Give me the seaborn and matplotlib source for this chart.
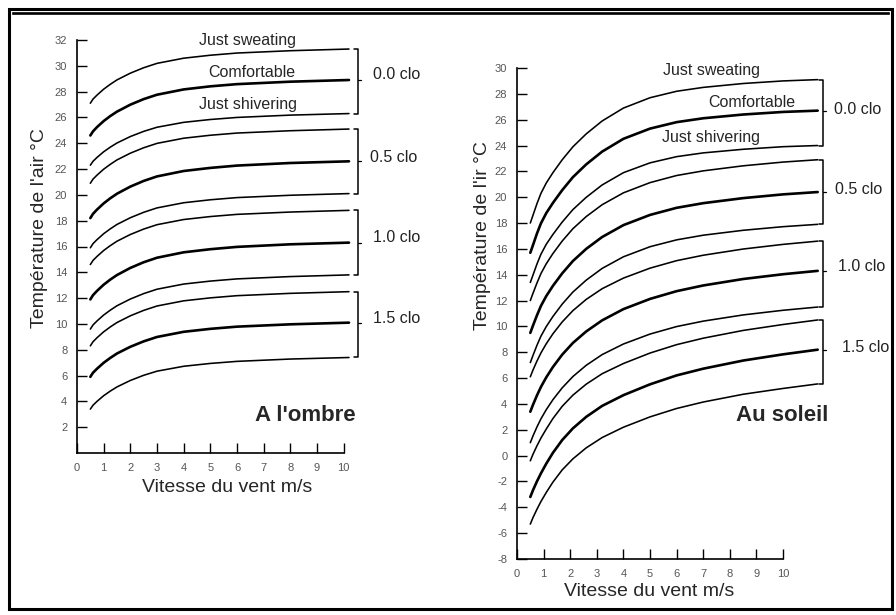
import matplotlib
matplotlib.use("Agg")
import matplotlib.pyplot as plt
import seaborn as sns
import pandas as pd
from matplotlib.patches import Rectangle

# ---------------- data ----------------
X_LEFT = [0.5, 0.6, 0.75, 1, 1.25, 1.5, 2, 2.5, 3, 4, 5, 6, 8, 10.2]
L00_SWEAT   = [27.10, 27.42, 27.73, 28.19, 28.57, 28.91, 29.43, 29.85, 30.19, 30.59, 30.82, 30.99, 31.17, 31.30]
L00_COMFORT = [24.60, 24.92, 25.25, 25.72, 26.11, 26.45, 26.99, 27.42, 27.76, 28.17, 28.41, 28.58, 28.77, 28.90]
L00_SHIVER  = [22.30, 22.60, 22.90, 23.34, 23.70, 24.02, 24.52, 24.92, 25.24, 25.62, 25.84, 26.00, 26.18, 26.30]
L05_SWEAT   = [20.90, 21.22, 21.53, 21.99, 22.37, 22.71, 23.23, 23.65, 23.99, 24.39, 24.62, 24.79, 24.97, 25.10]
L05_COMFORT = [18.20, 18.53, 18.86, 19.34, 19.74, 20.09, 20.64, 21.08, 21.43, 21.85, 22.09, 22.27, 22.47, 22.60]
L05_SHIVER  = [15.90, 16.22, 16.53, 16.99, 17.37, 17.71, 18.23, 18.65, 18.99, 19.39, 19.62, 19.79, 19.97, 20.10]
L10_SWEAT   = [14.60, 14.92, 15.23, 15.69, 16.07, 16.41, 16.93, 17.35, 17.69, 18.09, 18.32, 18.49, 18.67, 18.80]
L10_COMFORT = [11.90, 12.23, 12.56, 13.04, 13.44, 13.79, 14.34, 14.78, 15.13, 15.55, 15.79, 15.97, 16.17, 16.30]
L10_SHIVER  = [9.60, 9.92, 10.23, 10.69, 11.07, 11.41, 11.93, 12.35, 12.69, 13.09, 13.32, 13.49, 13.67, 13.80]
L15_SWEAT   = [8.30, 8.62, 8.93, 9.39, 9.77, 10.11, 10.63, 11.05, 11.39, 11.79, 12.02, 12.19, 12.37, 12.50]
L15_COMFORT = [5.90, 6.22, 6.53, 6.99, 7.37, 7.71, 8.23, 8.65, 8.99, 9.39, 9.62, 9.79, 9.97, 10.10]
L15_SHIVER  = [3.40, 3.70, 4.00, 4.44, 4.80, 5.12, 5.62, 6.02, 6.34, 6.72, 6.94, 7.10, 7.28, 7.40]

X_RIGHT = [0.5, 0.6, 0.75, 0.9, 1.1, 1.35, 1.7, 2.1, 2.6, 3.2, 4, 5, 6, 7, 8.5, 10, 11.3]
R00_SWEAT   = [18.00, 18.60, 19.50, 20.30, 21.10, 21.90, 22.90, 23.90, 24.90, 25.90, 26.90, 27.70, 28.20, 28.50, 28.80, 29.00, 29.10]
R00_COMFORT = [15.70, 16.29, 17.19, 17.98, 18.77, 19.56, 20.55, 21.55, 22.54, 23.53, 24.52, 25.31, 25.81, 26.11, 26.40, 26.60, 26.70]
R00_SHIVER  = [13.40, 13.97, 14.83, 15.59, 16.36, 17.12, 18.08, 19.04, 19.99, 20.95, 21.90, 22.66, 23.14, 23.43, 23.71, 23.91, 24.00]
R05_SWEAT   = [12.00, 12.56, 13.36, 14.09, 14.85, 15.64, 16.61, 17.56, 18.50, 19.42, 20.34, 21.13, 21.68, 22.04, 22.43, 22.72, 22.90]
R05_COMFORT = [9.50, 10.06, 10.86, 11.59, 12.35, 13.14, 14.11, 15.06, 16.00, 16.92, 17.84, 18.63, 19.18, 19.54, 19.93, 20.22, 20.40]
R05_SHIVER  = [7.20, 7.75, 8.54, 9.25, 9.99, 10.77, 11.73, 12.66, 13.58, 14.49, 15.39, 16.17, 16.70, 17.06, 17.44, 17.72, 17.90]
R10_SWEAT   = [6.10, 6.62, 7.32, 7.95, 8.66, 9.43, 10.35, 11.22, 12.09, 12.92, 13.74, 14.51, 15.09, 15.51, 15.99, 16.35, 16.60]
R10_COMFORT = [3.40, 3.93, 4.66, 5.32, 6.06, 6.86, 7.82, 8.72, 9.61, 10.47, 11.34, 12.13, 12.73, 13.17, 13.67, 14.04, 14.30]
R10_SHIVER  = [1.00, 1.52, 2.22, 2.85, 3.56, 4.33, 5.25, 6.12, 6.99, 7.82, 8.64, 9.41, 9.99, 10.41, 10.89, 11.25, 11.50]
R15_SWEAT   = [-0.40, 0.10, 0.76, 1.36, 2.06, 2.87, 3.82, 4.68, 5.53, 6.34, 7.13, 7.94, 8.59, 9.09, 9.69, 10.15, 10.50]
R15_COMFORT = [-3.20, -2.68, -1.99, -1.37, -0.62, 0.22, 1.21, 2.11, 3.00, 3.85, 4.68, 5.52, 6.21, 6.73, 7.36, 7.84, 8.20]
R15_SHIVER  = [-5.30, -4.80, -4.15, -3.55, -2.85, -2.05, -1.10, -0.25, 0.60, 1.40, 2.20, 3.00, 3.65, 4.15, 4.75, 5.20, 5.55]

CLO_LABELS = ["0.0 clo", "0.5 clo", "1.0 clo", "1.5 clo"]
LEFT_GROUPS = [(L00_SWEAT, L00_COMFORT, L00_SHIVER), (L05_SWEAT, L05_COMFORT, L05_SHIVER),
               (L10_SWEAT, L10_COMFORT, L10_SHIVER), (L15_SWEAT, L15_COMFORT, L15_SHIVER)]
RIGHT_GROUPS = [(R00_SWEAT, R00_COMFORT, R00_SHIVER), (R05_SWEAT, R05_COMFORT, R05_SHIVER),
                (R10_SWEAT, R10_COMFORT, R10_SHIVER), (R15_SWEAT, R15_COMFORT, R15_SHIVER)]

# ---------------- style ----------------
sns.set_style("white")
plt.rcParams["font.family"] = ["Liberation Sans", "DejaVu Sans"]
plt.rcParams["axes.unicode_minus"] = False

W, H = 896, 615
fig = plt.figure(figsize=(W / 100, H / 100), dpi=100)
fig.patch.set_facecolor("white")

axL = fig.add_axes([77 / W, (H - 453) / H, 280 / W, 413 / H])
axR = fig.add_axes([517 / W, (H - 559) / H, 314 / W, 491 / H])


def draw_panel(ax, xs, groups, xlim, ylim, yticks, brack_x, clo_x, clo_y):
    for g in groups:
        for k, ys in enumerate(g):
            df = pd.DataFrame({"v": xs, "t": ys})
            sns.lineplot(data=df, x="v", y="t", ax=ax, color="black",
                         linewidth=1.9 if k == 1 else 1.15, sort=True)
    ax.set_xlim(*xlim)
    ax.set_ylim(*ylim)
    ax.set_xlabel("")
    ax.set_ylabel("")
    ax.set_xticks(range(0, 11))
    ax.set_yticks(yticks)
    ax.tick_params(direction="in", length=7, width=1, labelsize=8,
                   labelcolor="#555555", pad=7, color="black",
                   bottom=True, left=True)
    for s in ["top", "right"]:
        ax.spines[s].set_visible(False)
    for s in ["left", "bottom"]:
        ax.spines[s].set_color("black")
        ax.spines[s].set_linewidth(1.2)
    ax.spines["bottom"].set_bounds(0, 10)
    # braces grouping the three curves of each clothing level
    for i, g in enumerate(groups):
        top, mid, bot = g[0][-1], g[1][-1], g[2][-1]
        ax.plot([brack_x - 0.15, brack_x, brack_x, brack_x - 0.15],
                [top, top, bot, bot], color="black", lw=1.1, clip_on=False)
        ax.plot([brack_x, brack_x + 0.12], [mid, mid], color="black",
                lw=0.9, clip_on=False)
        ax.text(clo_x[i], clo_y[i], CLO_LABELS[i], ha="left", va="center",
                fontsize=11.5, color="#222222")


draw_panel(axL, X_LEFT, LEFT_GROUPS, (0, 10.5), (0, 32), range(2, 33, 2),
           10.52, [11.1, 11.0, 11.1, 11.1], [29.3, 22.9, 16.7, 10.4])
draw_panel(axR, X_RIGHT, RIGHT_GROUPS, (0, 11.8), (-8, 30), range(-8, 31, 2),
           11.5, [11.9, 11.95, 12.07, 12.2], [26.8, 20.6, 14.6, 8.4])

# curve names
axL.text(6.4, 32.0, "Just sweating", ha="center", va="center", fontsize=11.5)
axL.text(6.55, 29.5, "Comfortable", ha="center", va="center", fontsize=11.5)
axL.text(6.4, 27.0, "Just shivering", ha="center", va="center", fontsize=11.5)
axR.text(7.3, 29.8, "Just sweating", ha="center", va="center", fontsize=11.5)
axR.text(8.83, 27.3, "Comfortable", ha="center", va="center", fontsize=11.5)
axR.text(7.3, 24.6, "Just shivering", ha="center", va="center", fontsize=11.5)

axL.text(10.45, 2.9, "A l'ombre", ha="right", va="center", fontsize=16, fontweight="bold")
axR.text(11.7, 3.1, "Au soleil", ha="right", va="center", fontsize=16, fontweight="bold")

# axis titles
fig.text(227 / W, 1 - 488 / H, "Vitesse du vent m/s", ha="center", va="center", fontsize=14)
fig.text(649 / W, 1 - 592 / H, "Vitesse du vent m/s", ha="center", va="center", fontsize=14)
fig.text(40 / W, 1 - 228 / H, "Température de l'air °C", ha="center", va="center",
         rotation=90, fontsize=14)
fig.text(482 / W, 1 - 236 / H, "Température de l'ir °C", ha="center", va="center",
         rotation=90, fontsize=14)

# double frame around the picture
fig.patches.append(Rectangle((9 / W, 6 / H), 883 / W, 600 / H, transform=fig.transFigure,
                             fill=False, edgecolor="black", linewidth=2.2))
fig.patches.append(Rectangle((13 / W, 1 - 14 / H), 876 / W, 0.001, transform=fig.transFigure,
                             fill=False, edgecolor="black", linewidth=1.2))

fig.savefig("out.png", dpi=100, facecolor="white")
